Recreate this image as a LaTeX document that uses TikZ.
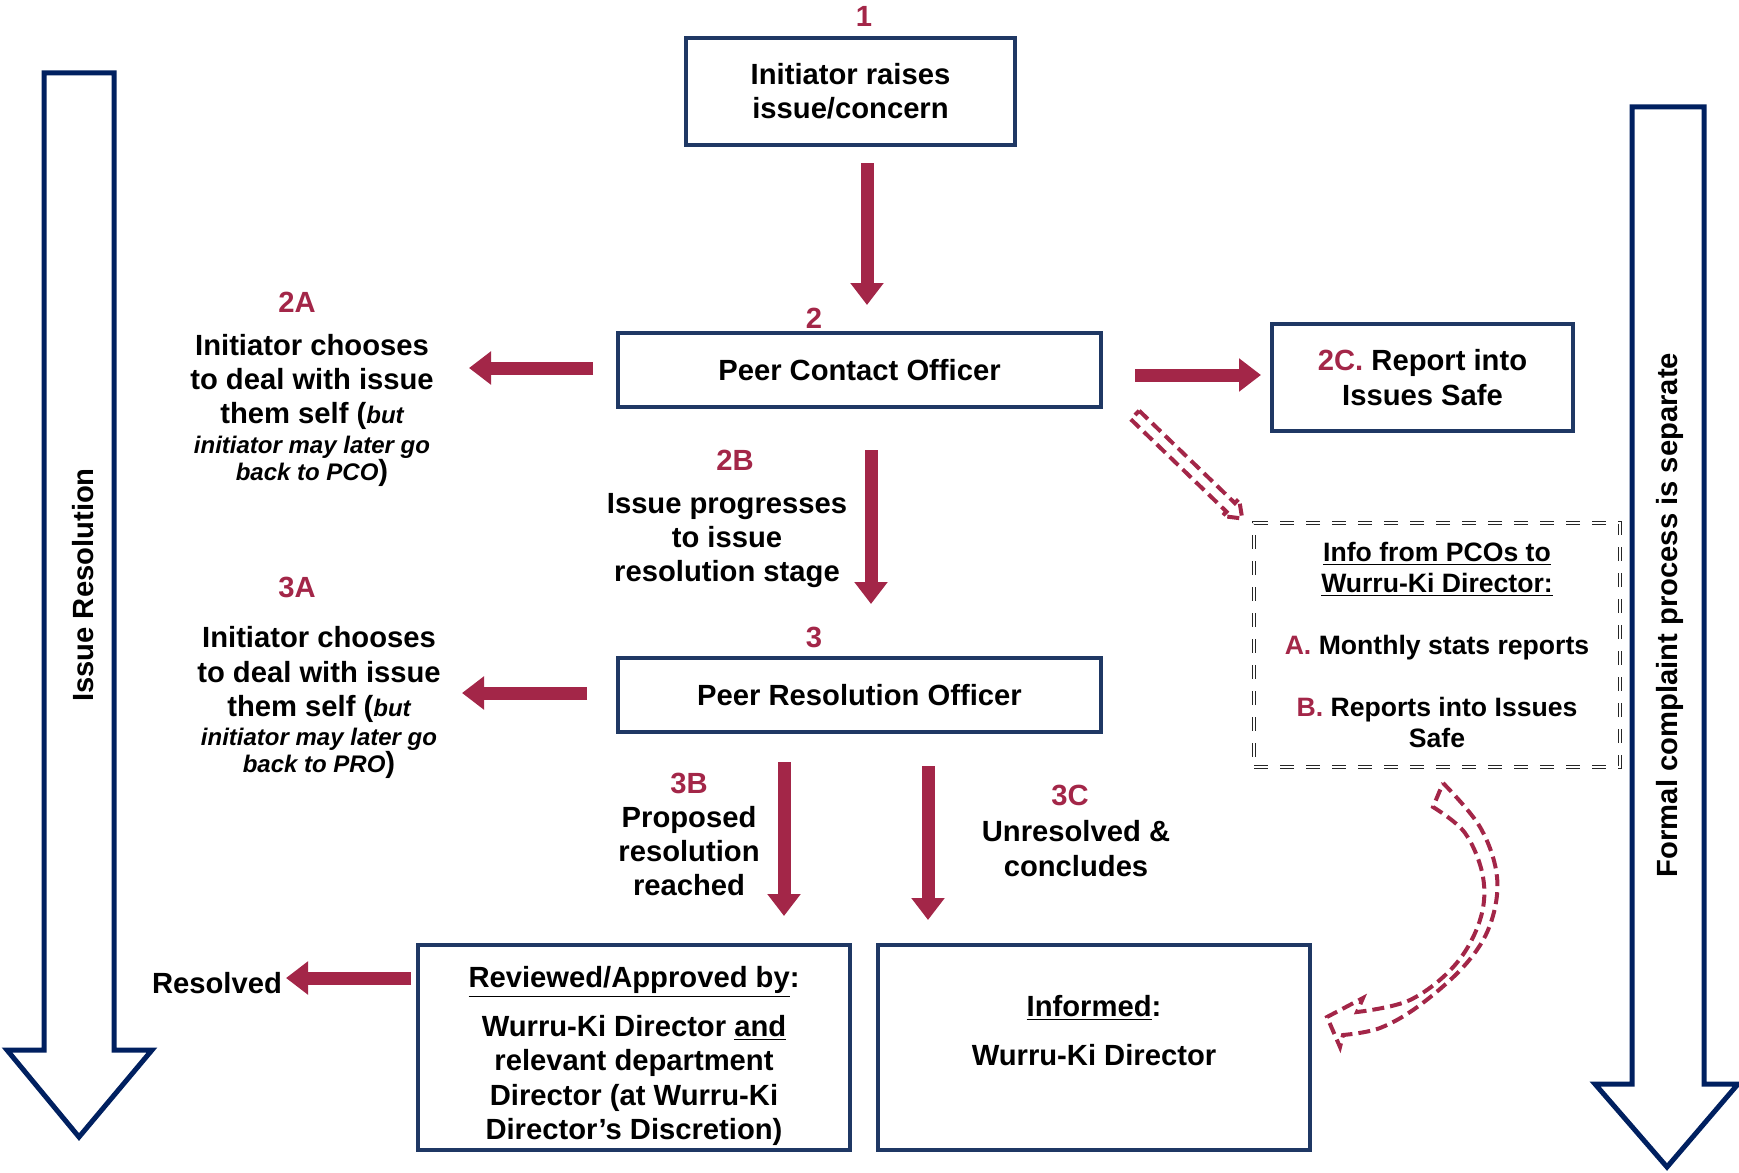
\documentclass[tikz,border=0pt]{standalone}
\usepackage{fontspec}
\setmainfont{Liberation Sans}
\usetikzlibrary{arrows.meta,positioning}
\definecolor{boxblue}{RGB}{31,56,100}
\definecolor{sideblue}{RGB}{0,32,96}
\definecolor{flowred}{RGB}{163,38,72}
\newcommand{\itnote}[1]{{\fontsize{12}{14}\selectfont\itshape #1}}

\begin{document}
\begin{tikzpicture}[x=0.5pt, y=-0.5pt,
		font=\fontsize{14.6}{17.2}\selectfont\bfseries,
		procbox/.style={draw=boxblue, line width=2.2pt, align=center, inner sep=0pt, outer sep=0pt},
		notebox/.style={draw=black!85, double, double distance=1.2pt, line width=0.6pt, dash pattern=on 7pt off 6pt, align=center, inner sep=0pt, outer sep=0pt, font=\fontsize{13.3}{15.5}\selectfont\bfseries},
		steplabel/.style={text=flowred, inner sep=0pt},
		flowtext/.style={align=center, inner sep=0pt},
		redarrow/.style={color=flowred, line width=6.5pt, -{Triangle[length=11pt,width=16pt]}},
		hollowarrow/.style={draw=flowred, line width=2pt, dash pattern=on 6pt off 3pt},
		sidearrow/.style={draw=sideblue, line width=2.5pt, fill=white}]
		\useasboundingbox (0,0) rectangle (1739,1172);
		\draw[sidearrow] (44,73) -- (114,73) -- (114,1050) -- (152,1050) -- (79,1137) -- (7,1050) -- (44,1050) -- cycle;
		\draw (83,585) node [rotate=90] (issueres) {Issue Resolution};
		\draw[sidearrow] (1632,107) -- (1704,107) -- (1704,1084) -- (1738,1084) -- (1667,1167) -- (1595,1084) -- (1632,1084) -- cycle;
		\draw (1670,615) node [rotate=90] (formal) {Formal complaint process is separate};
		\draw (850.5,91.5) node [procbox, minimum width=164.5pt, minimum height=53.5pt] (init) {Initiator raises\\ issue/concern};
		\draw (864,16) node [steplabel] (lbl1) {1};
		\draw (859.5,370) node [procbox, minimum width=241.5pt, minimum height=37pt] (pco) {Peer Contact Officer};
		\draw (814,318) node [steplabel] (lbl2) {2};
		\draw (1422.5,377.5) node [procbox, minimum width=150.5pt, minimum height=53.5pt] (report) {{\color{flowred}2C.} Report into\\ Issues Safe};
		\draw (859.5,695) node [procbox, minimum width=241.5pt, minimum height=37pt] (pro) {Peer Resolution Officer};
		\draw (814,637) node [steplabel] (lbl3) {3};
		\draw (634,1047.5) node [procbox, minimum width=216pt, minimum height=102.5pt] (reviewed) {\rule{0pt}{19pt}\underline{Reviewed/Approved by}:\\[7.3pt] Wurru-Ki Director \underline{and}\\ relevant department\\ Director (at Wurru-Ki\\ Director’s Discretion)};
		\draw (1094,1047.5) node [procbox, minimum width=216pt, minimum height=102.5pt] (informed) {\underline{Informed}:\\[7.3pt] Wurru-Ki Director\\ \mbox{}};
		\draw (1437,645) node [notebox, minimum width=183pt, minimum height=122pt] (info) {\underline{Info from PCOs to}\\ \underline{Wurru-Ki Director:}\\[15.5pt] {\color{flowred}A.} Monthly stats reports\\[15.5pt] {\color{flowred}B.} Reports into Issues\\ Safe};
		\draw (297,302) node [steplabel] (lbl2A) {2A};
		\draw (312,410) node [flowtext] (chooseA) {Initiator chooses\\ to deal with issue\\ them self (\itnote{but}\\[-2.65pt] \itnote{initiator may later go}\\[-3.7pt] \itnote{back to PCO})};
		\draw (297,587) node [steplabel] (lbl3A) {3A};
		\draw (319,702.5) node [flowtext] (chooseB) {Initiator chooses\\ to deal with issue\\ them self (\itnote{but}\\[-2.65pt] \itnote{initiator may later go}\\[-3.7pt] \itnote{back to PRO})};
		\draw (735,460) node [steplabel] (lbl2B) {2B};
		\draw (727,540.5) node [flowtext] (progress) {Issue progresses\\ to issue\\ resolution stage};
		\draw (689,783) node [steplabel] (lbl3B) {3B};
		\draw (689,851) node [flowtext] (proposed) {Proposed\\ resolution\\ reached};
		\draw (1070,795) node [steplabel] (lbl3C) {3C};
		\draw (1076,848.5) node [flowtext] (unresolved) {Unresolved \&\\ concludes};
		\draw (217,983) node [flowtext] (resolved) {Resolved};
		\coordinate (tip2A) at (469,368);
		\coordinate (tip3A) at (462,693);
		\coordinate (tipres) at (286,978);
		\coordinate (infotail) at (1135,415);
		\coordinate (curvetail) at (1443,783);
		\path[redarrow]
			([xshift=8.25pt,yshift=-9pt]init.south) edge ([xshift=3.75pt,yshift=14pt]pco.north)
			([xshift=17pt,yshift=-2.5pt]pco.east) edge ([xshift=-5.5pt,yshift=1.25pt]report.west)
			([xshift=-12.5pt,yshift=1pt]pco.west) edge (tip2A)
			([xshift=5.75pt,yshift=-21.5pt]pco.south) edge ([xshift=5.75pt,yshift=27pt]pro.north)
			([xshift=-15.5pt,yshift=1pt]pro.west) edge (tip3A)
			([xshift=-37.75pt,yshift=-15pt]pro.south) edge ([xshift=75pt,yshift=14.5pt]reviewed.north)
			([xshift=34.25pt,yshift=-17pt]pro.south) edge ([xshift=-83pt,yshift=12.5pt]informed.north)
			([xshift=-3.5pt,yshift=34.75pt]reviewed.west) edge (tipres);
		\begin{scope}[shift={(infotail)}, rotate=-44]
			\draw[hollowarrow] (0,-6) -- (133,-6) -- (133,-12) -- (149,0) -- (133,12) -- (133,6) -- (0,6) -- cycle;
		\end{scope}
		\begin{scope}[shift={(curvetail)}]
			\draw[hollowarrow] plot[smooth, tension=0.6] coordinates {(0,0) (37,44) (54,94) (47,142) (22,182) (-23,222) (-63,245) (-100,252)} -- (-103,264) -- (-116,234) -- (-80,215) -- (-86,229) -- plot[smooth, tension=0.6] coordinates {(-86,229) (-33,217) (12,182) (37,137) (40,94) (22,50) (-10,24)} -- cycle;
		\end{scope}
	\end{tikzpicture}
\end{document}
